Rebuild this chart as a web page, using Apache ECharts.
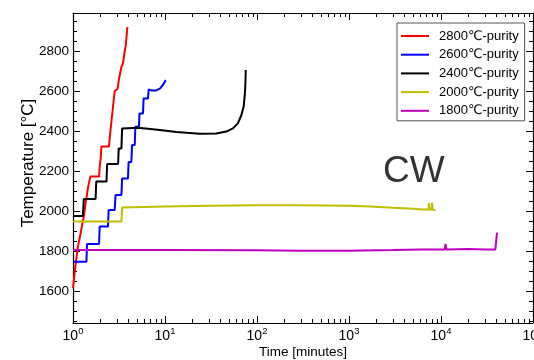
<!DOCTYPE html>
<html><head><meta charset="utf-8">
<script src="https://cdn.jsdelivr.net/npm/echarts@6/dist/echarts.min.js"></script>
<style>html,body{margin:0;padding:0;background:#fff}#c{width:534px;height:360px}</style>
</head><body><div id="c"></div>
<script>
// ---- data ----
const seriesNames = ['2800\u2103-purity', '2600\u2103-purity', '2400\u2103-purity', '2000\u2103-purity', '1800\u2103-purity'];
const seriesColors = ['#ff0000', '#0000ff', '#000000', '#bfbf00', '#bf00bf'];
const red2800 = [[1.0,1615],[1.04,1625],[1.06,1722],[1.105,1788],[1.13,1822],[1.2,1880],[1.265,1938],[1.31,1972],[1.37,2038],[1.4,2063],[1.46,2122],[1.545,2172],[1.92,2172],[1.95,2222],[2.0,2263],[2.035,2322],[2.46,2322],[2.55,2400],[2.62,2450],[2.72,2520],[2.78,2530],[2.84,2600],[3.05,2610],[3.16,2660],[3.3,2665],[3.36,2720],[3.5,2740],[3.65,2800],[3.75,2830],[3.9,2920]];
const blue2600 = [[1.0,1746],[1.40,1746],[1.42,1835],[1.92,1835],[1.95,1922],[2.40,1922],[2.44,2005],[2.84,2005],[2.90,2080],[3.36,2080],[3.42,2163],[3.96,2163],[4.02,2245],[4.31,2245],[4.38,2330],[4.69,2330],[4.76,2421],[5.21,2421],[5.28,2488],[5.77,2488],[5.85,2563],[6.53,2563],[6.65,2608],[7.2,2602],[8.0,2603],[8.8,2612],[9.5,2630],[10.2,2655]];
const black2400 = [[1.0,1975],[1.28,1975],[1.31,2060],[1.76,2060],[1.79,2147],[2.31,2147],[2.35,2235],[3.09,2235],[3.14,2313],[3.36,2313],[3.42,2413],[5.1,2416],[8.8,2405],[13.3,2395],[23.8,2386],[36,2387],[46.5,2397],[54.8,2413],[62,2438],[67.7,2480],[71.6,2522],[73.9,2588],[75,2650],[75.4,2705]];
const yellow2000 = [[1.0,1947],[3.36,1947],[3.42,2018],[10,2022],[30,2026],[100,2029],[300,2029],[1000,2026],[1700,2022],[3000,2016],[5000,2011],[6300,2008],[7300,2007],[7400,2040],[7500,2007],[7900,2006],[8000,2042],[8100,2006],[8700,2005]];
const magenta1800 = [[1.0,1805],[10,1805],[100,1804],[300,1801],[1000,1801],[3000,1805],[6000,1808],[11000,1808],[11200,1835],[11400,1808],[20000,1810],[30000,1808],[39000,1808],[40000,1860],[40600,1892]];
const seriesData = [red2800, blue2600, black2400, yellow2000, magenta1800];

const yLabelValues = [1600, 1800, 2000, 2200, 2400, 2600, 2800];
const yMinorValues = [1450,1500,1550,1650,1700,1750,1850,1900,1950,2050,2100,2150,2250,2300,2350,2450,2500,2550,2650,2700,2750,2850,2900,2950];
const xMajorValues = [1, 10, 100, 1000, 10000, 100000];
const xMinorValues = [2,3,4,5,6,7,8,9,20,30,40,50,60,70,80,90,200,300,400,500,600,700,800,900,2000,3000,4000,5000,6000,7000,8000,9000,20000,30000,40000,50000,60000,70000,80000,90000];
const xMin = 1, xMax = 100000, yMin = 1440, yMax = 2990;

// ---- chart ----
const font = "'Liberation Sans', Arial, 'DejaVu Sans', sans-serif";
const black = '#000';
function xAx(pos, major, showLine, showLabel) {
  return {
    type: 'log', logBase: 10, min: xMin, max: xMax, position: pos, gridIndex: 0,
    axisLine: { show: showLine, onZero: false, lineStyle: { color: black, width: 1.2 } },
    axisTick: { show: true, inside: true, length: major ? 7 : 4, customValues: major ? xMajorValues : xMinorValues, lineStyle: { color: black, width: 1 } },
    axisLabel: showLabel ? {
      show: true, margin: 3, customValues: xMajorValues,
      formatter: v => '{b|10}{s|' + Math.round(Math.log10(v)) + '}',
      rich: { b: { fontSize: 14, lineHeight: 20, fontFamily: font, color: black }, s: { fontSize: 9.5, lineHeight: 12, verticalAlign: 'top', fontFamily: font, color: black } }
    } : { show: false },
    splitLine: { show: false }, minorTick: { show: false },
    name: showLabel ? 'Time [minutes]' : '', nameLocation: 'middle', nameGap: 22, nameMoveOverlap: false,
    nameTextStyle: { fontSize: 13.5, fontFamily: font, color: black }
  };
}
function yAx(pos, major, showLine, showLabel) {
  return {
    type: 'value', min: yMin, max: yMax, position: pos, gridIndex: 0,
    axisLine: { show: showLine, onZero: false, lineStyle: { color: black, width: 1.2 } },
    axisTick: { show: true, inside: true, length: major ? 7 : 4, customValues: major ? yLabelValues : yMinorValues, lineStyle: { color: black, width: 1 } },
    axisLabel: showLabel ? { show: true, margin: 4, customValues: yLabelValues, formatter: v => String(v), fontSize: 13.5, fontFamily: font, color: black } : { show: false },
    splitLine: { show: false },
    name: showLabel ? 'Temperature [\u00b0C]' : '', nameLocation: 'middle', nameGap: 36, nameMoveOverlap: false,
    nameTextStyle: { fontSize: 17, fontFamily: font, color: black, padding: [0, 0, 0, 10] }
  };
}

const chart = echarts.init(document.getElementById('c'), null, { renderer: 'canvas' });
chart.setOption({
  animation: false,
  backgroundColor: '#fff',
  grid: { left: 73, top: 13, width: 460, height: 310, containLabel: false, outerBoundsMode: 'none' },
  xAxis: [xAx('bottom', true, true, true), xAx('bottom', false, false, false), xAx('top', true, true, false), xAx('top', false, false, false)],
  yAxis: [yAx('left', true, true, true), yAx('left', false, false, false), yAx('right', true, true, false), yAx('right', false, false, false)],
  legend: {
    orient: 'vertical', left: 397, top: 23, padding: [5, 6, 2, 4],
    itemWidth: 28, itemHeight: 2, icon: 'rect', itemGap: 2.7,
    backgroundColor: '#fff', borderColor: '#555', borderWidth: 1,
    textStyle: { fontSize: 13, lineHeight: 16, fontFamily: font, color: black, padding: [0, 0, 0, 5] },
    data: seriesNames
  },
  graphic: [{ type: 'text', x: 383, y: 172, style: { text: 'CW', fontSize: 37, fontFamily: font, fill: '#333', verticalAlign: 'middle' } }],
  series: seriesNames.map((n, i) => ({
    type: 'line', name: n, data: seriesData[i], xAxisIndex: 0, yAxisIndex: 0,
    showSymbol: false, symbol: 'none', clip: true,
    lineStyle: { width: 2, color: seriesColors[i] }, itemStyle: { color: seriesColors[i] }
  }))
});
</script></body></html>
